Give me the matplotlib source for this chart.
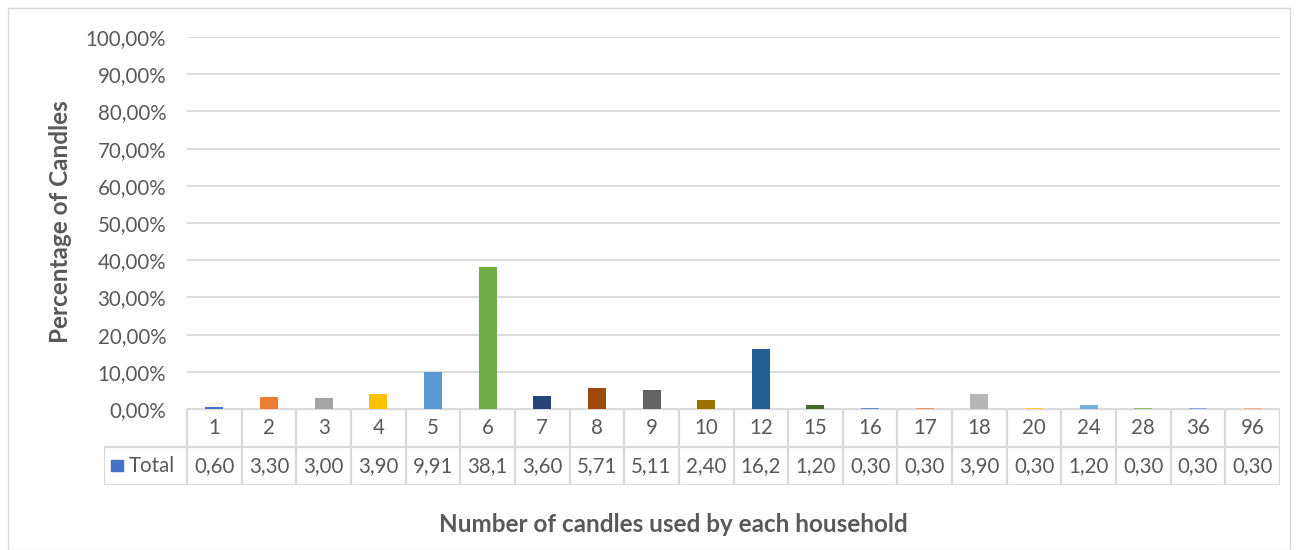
import matplotlib
matplotlib.use('Agg')
import matplotlib.pyplot as plt
from matplotlib.patches import Rectangle
import numpy as np

# data
candles = ['1', '2', '3', '4', '5', '6', '7', '8', '9', '10',
           '12', '15', '16', '17', '18', '20', '24', '28', '36', '96']
pct = [0.60, 3.30, 3.00, 3.90, 9.91, 38.1, 3.60, 5.71, 5.11, 2.40,
       16.2, 1.20, 0.30, 0.30, 3.90, 0.30, 1.20, 0.30, 0.30, 0.30]
table_text = ['0,60', '3,30', '3,00', '3,90', '9,91', '38,1', '3,60', '5,71', '5,11', '2,40',
              '16,2', '1,20', '0,30', '0,30', '3,90', '0,30', '1,20', '0,30', '0,30', '0,30']
colors = ['#4472C4', '#ED7D31', '#A5A5A5', '#FFC000', '#5B9BD5', '#70AD47',
          '#264478', '#9E480E', '#636363', '#997300', '#255E91', '#43682B',
          '#698ED0', '#F1975A', '#B7B7B7', '#FFCD33', '#7CAFDD', '#8CC168',
          '#8FAADC', '#F4B183']

plt.rcParams['font.family'] = ['Lato', 'DejaVu Sans']
txt = '#595959'
grid = '#D9D9D9'
fs = 14.8

W, H = 1297, 550
fig = plt.figure(figsize=(W / 100, H / 100), dpi=100)

# outer chart border
fig.patches.append(Rectangle((8 / W, 0), (1290 - 8) / W, (550 - 8) / H,
                             transform=fig.transFigure, fill=False,
                             edgecolor=grid, lw=1))

x0, x1 = 187, 1280
ytop, ybot = 37, 409
ax = fig.add_axes([x0 / W, 1 - ybot / H, (x1 - x0) / W, (ybot - ytop) / H])
n = len(candles)
x = np.arange(n)
ax.bar(x, pct, width=0.33, color=colors, zorder=3)
ax.set_xlim(-0.5, n - 0.5)
ax.set_ylim(0, 100)
ax.set_yticks(np.arange(0, 101, 10))
ax.set_yticklabels(['{:.2f}%'.format(v).replace('.', ',') for v in range(0, 101, 10)],
                   color=txt, fontsize=fs)
ax.tick_params(axis='y', length=0, pad=15)
ax.set_xticks([])
ax.grid(axis='y', color=grid, lw=1.3, zorder=0)
for s in ax.spines.values():
    s.set_visible(False)

fig.text(60 / W, 1 - 222 / H, 'Percentage of Candles', rotation=90,
         ha='center', va='center', fontsize=17.5, fontweight='bold', color=txt)

# data table under the plot
colw = (x1 - x0) / n
tl = 104
tb = 485
tax = fig.add_axes([tl / W, 1 - tb / H, (x1 - tl) / W, (tb - ybot) / H])
left = -0.5 - (x0 - tl) / colw
tax.set_xlim(left, n - 0.5)
tax.set_ylim(0, 2)
tax.axis('off')
lc = '#D9D9D9'
lw = 1.6
# horizontal lines
tax.plot([-0.5, n - 0.5], [2, 2], color=lc, lw=lw)
tax.plot([left, n - 0.5], [1, 1], color=lc, lw=lw)
tax.plot([left, n - 0.5], [0, 0], color=lc, lw=lw)
# vertical lines
for e in np.arange(-0.5, n, 1.0):
    tax.plot([e, e], [0, 2], color=lc, lw=lw)
tax.plot([left, left], [0, 1], color=lc, lw=lw)
for i in range(n):
    tax.text(i, 1.5, candles[i], ha='center', va='center', color=txt, fontsize=fs)
    tax.text(i, 0.5, table_text[i], ha='center', va='center', color=txt, fontsize=fs)
tax.add_patch(Rectangle((left + 0.13, 0.37), 0.22, 0.3, color='#4472C4', clip_on=False))
tax.text(left + 0.45, 0.5, 'Total', ha='left', va='center', color=txt, fontsize=fs)

fig.text(673 / W, 1 - 525 / H, 'Number of candles used by each household',
         ha='center', va='center', fontsize=17.5, fontweight='bold', color=txt)

fig.savefig('out.png', dpi=100)
